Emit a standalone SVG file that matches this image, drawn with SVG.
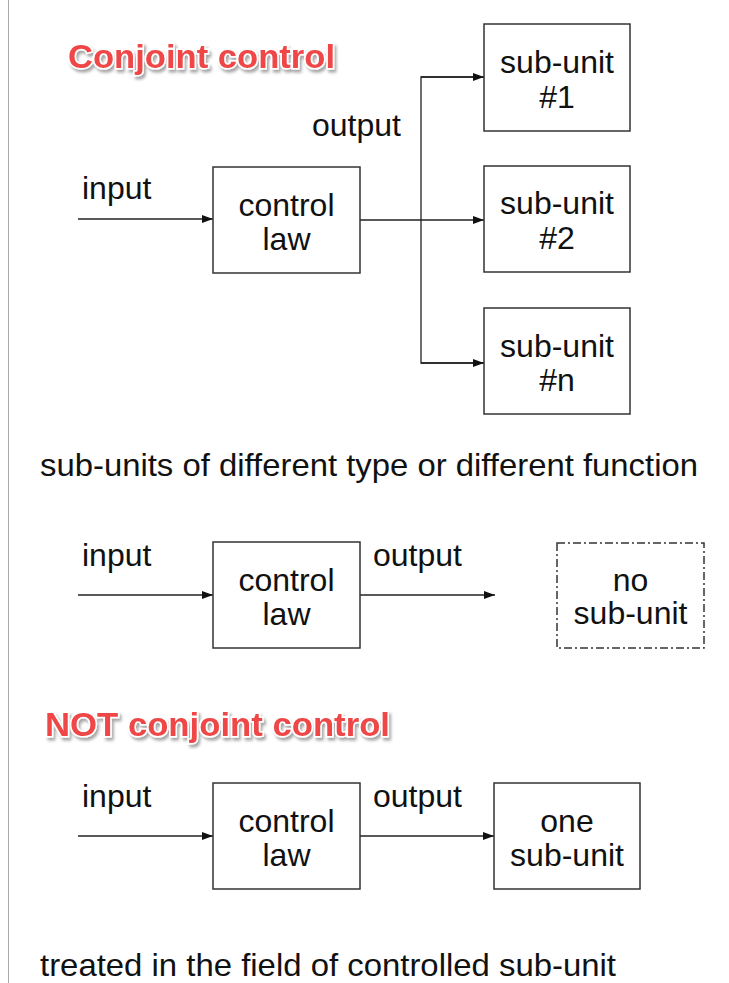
<svg xmlns="http://www.w3.org/2000/svg" width="729" height="983" viewBox="0 0 729 983">
<defs>
<style>
.t{font-family:"Liberation Sans",Arial,sans-serif;font-size:32px;fill:#111}
.c{text-anchor:middle}
.box{fill:#fff;stroke:#333;stroke-width:1.5}
.dash{fill:#fff;stroke:#333;stroke-width:1.5;stroke-dasharray:8 3 2 3}
.ln{fill:none;stroke:#222;stroke-width:1.3}
.title{font-family:"Liberation Sans",Arial,sans-serif;font-size:33px;font-weight:bold;fill:#ef4646;stroke:#fff;stroke-width:3;paint-order:stroke;filter:url(#sh)}
</style>
<marker id="ah" viewBox="0 0 11 8" refX="11" refY="4" markerWidth="11" markerHeight="8" markerUnits="userSpaceOnUse" orient="auto">
<path d="M0,0 L11,4 L0,8 Z" fill="#111"/>
</marker>
<filter id="sh" x="-10%" y="-30%" width="120%" height="160%">
<feDropShadow dx="2" dy="3" stdDeviation="1.5" flood-color="#000" flood-opacity="0.35"/>
</filter>
</defs>
<rect width="729" height="983" fill="#fff"/>
<line x1="8.5" y1="0" x2="8.5" y2="983" stroke="#aaa" stroke-width="1"/>

<text class="title" x="68" y="68" textLength="267" lengthAdjust="spacingAndGlyphs">Conjoint control</text>
<text class="title" x="45" y="736" textLength="345" lengthAdjust="spacingAndGlyphs">NOT conjoint control</text>

<g id="connectors">
<line class="ln" x1="78" y1="219" x2="213" y2="219" marker-end="url(#ah)"/>
<path class="ln" d="M360,220 H421"/>
<path class="ln" d="M484,77 H421 V363 H484"/>
<line class="ln" x1="421" y1="77" x2="484" y2="77" marker-end="url(#ah)"/>
<line class="ln" x1="421" y1="220" x2="484" y2="220" marker-end="url(#ah)"/>
<line class="ln" x1="421" y1="363" x2="484" y2="363" marker-end="url(#ah)"/>
<line class="ln" x1="78" y1="595" x2="213" y2="595" marker-end="url(#ah)"/>
<line class="ln" x1="360" y1="595" x2="495" y2="595" marker-end="url(#ah)"/>
<line class="ln" x1="78" y1="836" x2="213" y2="836" marker-end="url(#ah)"/>
<line class="ln" x1="360" y1="836" x2="494" y2="836" marker-end="url(#ah)"/>
</g>

<g id="labels">
<text class="t" x="82" y="199">input</text>
<text class="t" x="312" y="136">output</text>
<text class="t" x="40" y="476" textLength="658" lengthAdjust="spacingAndGlyphs">sub-units of different type or different function</text>
<text class="t" x="82" y="566">input</text>
<text class="t" x="373" y="566">output</text>
<text class="t" x="82" y="807">input</text>
<text class="t" x="373" y="807">output</text>
<text class="t" x="40" y="976" textLength="576" lengthAdjust="spacingAndGlyphs">treated in the field of controlled sub-unit</text>
</g>

<g id="law1">
<rect class="box" x="213" y="167" width="147" height="106"/>
<text class="t c" x="286.5" y="216">control</text>
<text class="t c" x="286.5" y="250">law</text>
</g>
<g id="sub1">
<rect class="box" x="484" y="24" width="146" height="107"/>
<text class="t c" x="557" y="73">sub-unit</text>
<text class="t c" x="557" y="108">#1</text>
</g>
<g id="sub2">
<rect class="box" x="484" y="166" width="146" height="106"/>
<text class="t c" x="557" y="214">sub-unit</text>
<text class="t c" x="557" y="249">#2</text>
</g>
<g id="subn">
<rect class="box" x="484" y="308" width="146" height="106"/>
<text class="t c" x="557" y="357">sub-unit</text>
<text class="t c" x="557" y="391">#n</text>
</g>
<g id="law2">
<rect class="box" x="213" y="542" width="147" height="106"/>
<text class="t c" x="286.5" y="591">control</text>
<text class="t c" x="286.5" y="625">law</text>
</g>
<g id="nosub">
<rect class="dash" x="557" y="543" width="147" height="105"/>
<text class="t c" x="630.5" y="591">no</text>
<text class="t c" x="630.5" y="624">sub-unit</text>
</g>
<g id="law3">
<rect class="box" x="213" y="783" width="147" height="106"/>
<text class="t c" x="286.5" y="832">control</text>
<text class="t c" x="286.5" y="866">law</text>
</g>
<g id="onesub">
<rect class="box" x="494" y="783" width="146" height="106"/>
<text class="t c" x="567" y="832">one</text>
<text class="t c" x="567" y="866">sub-unit</text>
</g>
</svg>
